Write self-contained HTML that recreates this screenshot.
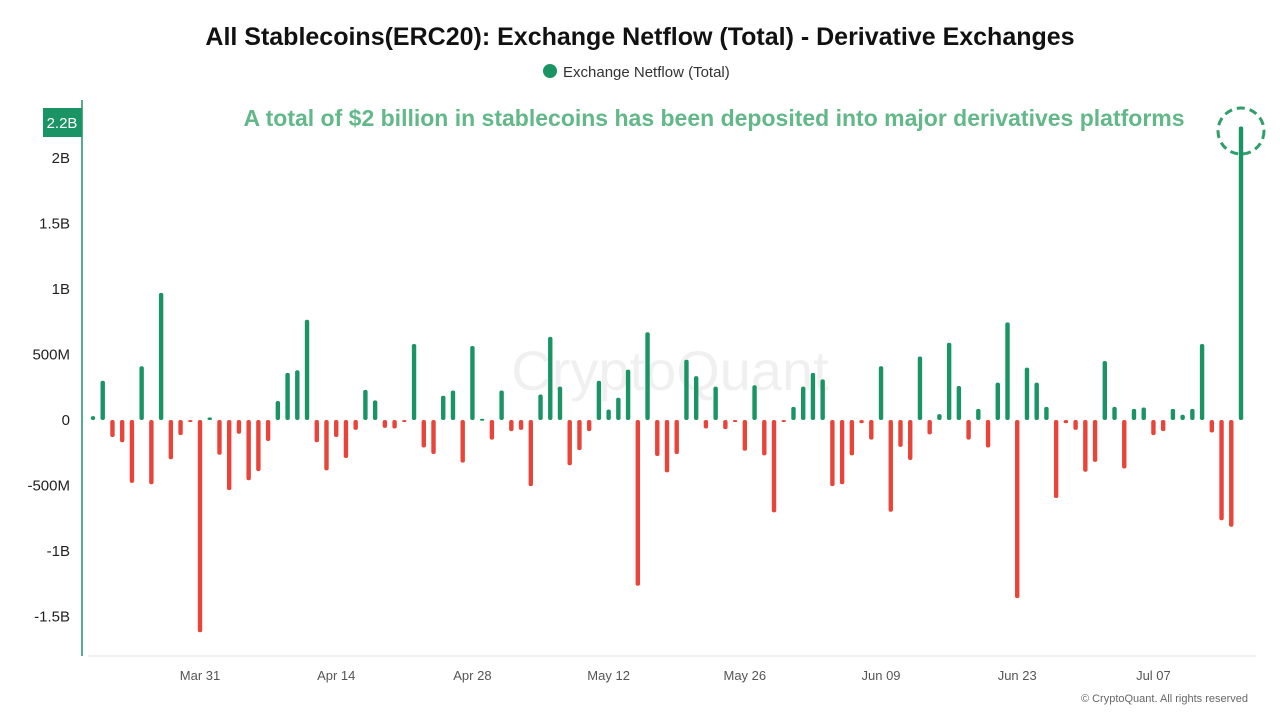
<!DOCTYPE html>
<html><head><meta charset="utf-8"><style>
body{margin:0;background:#fff;font-family:"Liberation Sans",sans-serif;}
svg text{font-family:"Liberation Sans",sans-serif;}
</style></head><body>
<svg id="chart" width="1280" height="720" viewBox="0 0 1280 720">
<text x="640" y="45" text-anchor="middle" font-size="25" font-weight="bold" fill="#111">All Stablecoins(ERC20): Exchange Netflow (Total) - Derivative Exchanges</text>
<g><circle cx="550" cy="71" r="7" fill="#1a9465"/><text x="563" y="77" font-size="15" fill="#333">Exchange Netflow (Total)</text></g>
<text x="670" y="390" text-anchor="middle" font-size="56" fill="#000" fill-opacity="0.06">CryptoQuant</text>
<text x="714" y="126" text-anchor="middle" font-size="23" font-weight="bold" fill="#62b888">A total of $2 billion in stablecoins has been deposited into major derivatives platforms</text>
<line x1="88" y1="656" x2="1256" y2="656" stroke="#e3e3e3"/>
<line x1="82" y1="100" x2="82" y2="656" stroke="#1a9465" stroke-width="1.5"/>
<g id="yticks"></g><g id="xticks"></g><g id="bars"></g>
<rect x="43" y="108" width="39" height="29" fill="#1a9465"/>
<text x="62" y="128" text-anchor="middle" font-size="15" fill="#fff">2.2B</text>
<circle cx="1241" cy="131" r="23" fill="none" stroke="#2e9e6a" stroke-width="3" stroke-dasharray="8 5"/>
<text x="1248" y="702" text-anchor="end" font-size="11" fill="#666">© CryptoQuant. All rights reserved</text>
</svg>
<script>
const yTickValues=[2000,1500,1000,500,0,-500,-1000,-1500];
const yTickLabels=["2B","1.5B","1B","500M","0","-500M","-1B","-1.5B"];
const xTickIndex=[11,25,39,53,67,81,95,109];
const xTickLabels=["Mar 31","Apr 14","Apr 28","May 12","May 26","Jun 09","Jun 23","Jul 07"];
const netflow=[30,300,-130,-170,-480,410,-490,970,-300,-115,-10,-1620,20,-265,-535,-105,-460,-390,-160,145,360,380,765,-170,-385,-130,-290,-75,230,150,
-60,-65,-5,580,-210,-260,185,225,-325,565,10,-150,225,-85,-75,-505,195,635,255,-345,-230,-85,300,80,170,385,-1265,670,-275,-400,-260,
460,335,-65,255,-70,-5,-235,265,-270,-705,-3,100,255,360,310,-505,-490,-270,-25,-150,410,-700,-205,-305,485,-110,45,590,260,-150,
85,-210,285,745,-1360,400,285,100,-595,-25,-75,-395,-320,450,100,-370,85,95,-115,-85,85,40,85,580,-95,-765,-815,2240];
const NS="http://www.w3.org/2000/svg";
const yS=v=>420-v*0.131;
const xS=i=>93+i*(1241-93)/(netflow.length-1);
const yt=document.getElementById('yticks');
yTickValues.forEach((v,k)=>{const t=document.createElementNS(NS,'text');
t.setAttribute('x',70);t.setAttribute('y',yS(v)+5);t.setAttribute('text-anchor','end');t.setAttribute('font-size','15');t.setAttribute('fill','#222');
t.textContent=yTickLabels[k];


yt.appendChild(t);});
const xt=document.getElementById('xticks');
xTickIndex.forEach((d,k)=>{const t=document.createElementNS(NS,'text');
t.setAttribute('x',xS(d));t.setAttribute('y',680);t.setAttribute('text-anchor','middle');t.setAttribute('font-size','13');t.setAttribute('fill','#555');
t.textContent=xTickLabels[k];


xt.appendChild(t);});
const bg=document.getElementById('bars');
netflow.forEach((v,i)=>{const r=document.createElementNS(NS,'rect');
const y0=yS(0),y1=yS(v);const top=Math.min(y0,y1),h=Math.max(Math.abs(y1-y0),2);
r.setAttribute('x',xS(i)-2.2);r.setAttribute('y',top);r.setAttribute('width',4.4);r.setAttribute('height',h);r.setAttribute('rx',2);
r.setAttribute('fill',v>=0?'#1a9465':'#e8443a');


bg.appendChild(r);});
</script>
</body></html>
